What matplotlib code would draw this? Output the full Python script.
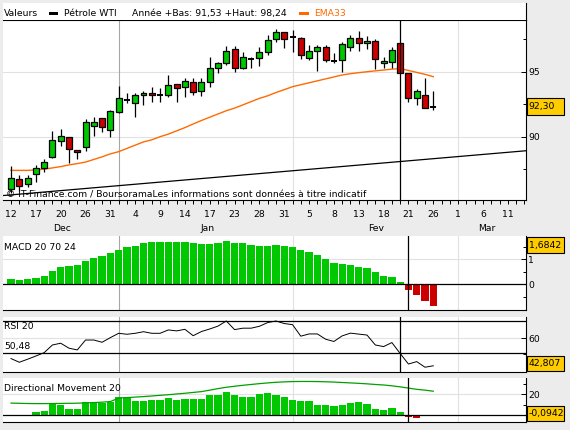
#!/usr/bin/env python
import numpy as np
import matplotlib
matplotlib.use("Agg")
import matplotlib.pyplot as plt
from matplotlib.patches import Rectangle
from matplotlib.lines import Line2D
from matplotlib.transforms import Affine2D, blended_transform_factory

# Petrole WTI daily candles, oldest first
opens = [85.95, 86.72, 86.33, 87.10, 87.56, 88.46, 89.64, 89.95, 88.97, 89.18,
         90.85, 91.46, 90.51, 91.87, 92.82, 92.56, 93.18, 93.33, 93.18, 93.18,
         94.03, 93.80, 94.18, 93.49, 94.23, 95.26, 95.64, 96.72, 95.26, 95.97,
         96.03, 96.54, 97.49, 98.03, 97.65, 97.56, 96.03, 96.62, 96.87, 95.85,
         95.90, 96.92, 97.62, 97.18, 97.36, 95.65, 95.72, 97.18, 94.88, 92.95,
         93.21, 92.30]
highs = [87.74, 87.05, 87.05, 87.82, 88.26, 90.44, 90.59, 89.97, 89.00, 91.36,
         91.49, 91.46, 92.05, 93.90, 93.38, 93.33, 93.49, 93.85, 93.77, 94.74,
         94.03, 94.49, 94.49, 94.49, 96.15, 95.77, 96.97, 96.97, 96.54, 96.10,
         96.92, 97.82, 98.26, 98.03, 98.20, 97.69, 97.05, 97.05, 97.05, 96.41,
         97.31, 97.82, 98.13, 97.77, 97.49, 96.15, 96.92, 97.18, 94.88, 93.67,
         94.54, 93.50]
lows = [85.64, 85.85, 86.15, 86.54, 87.30, 88.33, 89.31, 88.00, 88.26, 88.92,
        90.08, 90.38, 90.00, 91.82, 92.56, 91.54, 92.46, 92.69, 92.69, 93.08,
        92.69, 93.03, 93.20, 93.15, 93.85, 94.87, 95.51, 95.00, 95.18, 95.26,
        95.46, 96.28, 97.31, 96.80, 96.50, 95.97, 95.90, 95.08, 95.77, 95.64,
        95.00, 96.62, 96.62, 96.74, 95.20, 95.26, 95.31, 94.88, 92.69, 92.44,
        92.18, 92.05]
closes = [86.80, 86.20, 86.80, 87.56, 88.03, 89.74, 90.03, 89.03, 88.79, 91.10,
          91.10, 90.72, 91.97, 92.95, 92.82, 93.18, 93.36, 93.18, 93.18, 93.97,
          93.72, 94.28, 93.41, 94.18, 95.26, 95.64, 96.62, 95.26, 96.10, 95.97,
          96.54, 97.44, 98.08, 97.49, 97.65, 96.28, 96.62, 96.87, 95.90, 95.85,
          97.13, 97.62, 97.18, 97.36, 95.98, 95.82, 96.67, 94.88, 92.95, 93.52,
          92.18, 92.30]
ema33 = [87.41, 87.41, 87.41, 87.45, 87.50, 87.60, 87.70, 87.83, 87.93, 88.05,
         88.25, 88.45, 88.68, 88.85, 89.10, 89.35, 89.60, 89.76, 90.00, 90.20,
         90.45, 90.70, 90.98, 91.25, 91.50, 91.75, 92.00, 92.20, 92.45, 92.70,
         92.95, 93.15, 93.40, 93.62, 93.85, 94.00, 94.15, 94.30, 94.45, 94.60,
         94.75, 94.85, 94.93, 95.00, 95.07, 95.13, 95.20, 95.24, 95.10, 94.95,
         94.80, 94.62]
trend_idx = [-1.0, 62.2]
trend_val = [85.47, 88.92]

day_labels = ["12", "17", "20", "26", "31", "4", "9", "14", "17", "23", "28",
              "31", "5", "8", "13", "18", "21", "26", "1", "6", "11"]
month_labels = ["Dec", "Jan", "Fev", "Mar"]
month_pos = [6.2, 23.7, 44.1, 57.5]

macd_hist = [0.22, 0.17, 0.22, 0.26, 0.34, 0.53, 0.68, 0.74, 0.78, 0.93,
             1.05, 1.13, 1.24, 1.39, 1.49, 1.55, 1.64, 1.68, 1.68, 1.68,
             1.68, 1.68, 1.66, 1.61, 1.61, 1.64, 1.72, 1.64, 1.64, 1.59,
             1.55, 1.55, 1.59, 1.55, 1.50, 1.36, 1.29, 1.16, 1.01, 0.86,
             0.80, 0.76, 0.70, 0.66, 0.49, 0.33, 0.29, 0.10, -0.23, -0.43,
             -0.66, -0.87]
rsi = [47.3, 45.0, 46.9, 48.9, 51.0, 55.8, 56.9, 53.8, 52.7, 58.9,
       58.9, 57.5, 60.4, 63.1, 62.5, 63.1, 64.1, 63.1, 63.1, 65.2,
       64.6, 65.6, 61.6, 64.2, 65.8, 67.6, 70.8, 65.4, 66.3, 66.3,
       67.5, 69.8, 70.8, 69.2, 68.5, 61.3, 62.7, 62.7, 59.4, 58.0,
       61.5, 63.2, 62.6, 62.0, 55.8, 54.8, 57.3, 50.5, 43.9, 45.4,
       41.9, 42.8]
dmi_hist = [0.0, 0.0, 0.0, 3.2, 4.1, 10.3, 9.7, 5.8, 5.8, 12.3,
            12.3, 11.9, 12.9, 17.7, 17.1, 13.8, 13.8, 14.5, 14.5, 16.7,
            14.5, 15.5, 15.5, 15.2, 19.0, 19.0, 21.9, 19.0, 17.7, 17.7,
            20.0, 21.0, 19.5, 17.4, 14.5, 13.5, 13.5, 9.4, 9.4, 8.7,
            9.7, 11.3, 12.6, 11.0, 5.8, 4.8, 6.4, 3.2, -2.0, -2.6,
            0.0, -0.0942]
adx = [11.5, 11.3, 11.1, 11.0, 11.0, 11.1, 11.2, 11.3, 11.4, 11.7,
       12.0, 12.4, 13.0, 16.3, 16.8, 17.3, 17.8, 18.4, 19.0, 19.6,
       20.3, 21.0, 21.8, 22.6, 24.0, 25.5, 26.8, 27.8, 28.7, 29.5,
       30.3, 31.0, 31.6, 32.0, 32.3, 32.4, 32.4, 32.3, 32.1, 31.8,
       31.4, 31.0, 30.6, 30.1, 29.5, 29.0, 28.2, 27.2, 26.0, 24.8,
       24.0, 23.0]

last_close, macd_last, rsi_last, dmi_last = 92.30, 1.6842, 42.807, -0.0942
year_low, year_high = 91.53, 98.24
rsi_upper, rsi_mid = 71.0, 50.48
year_start, month_starts = 13, [34, 54]

GREEN = "#00c800"
RED = "#cc0000"
ORANGE = "#ff6a00"
GRID = "#e1e1e1"
BG = "#ececec"
YELLOW = "#ffcc00"
FS = 6.7

W, H = 570, 430
plt.rcParams["font.family"] = ["DejaVu Sans"]
plt.rcParams["font.size"] = FS

fig = plt.figure(figsize=(W / 100, H / 100), dpi=100)
fig.patch.set_facecolor(BG)

# pixel coords measured from the top-left corner
px = Affine2D().scale(1, -1).translate(0, H)


def fr(v, nd=2):
	# French decimal comma
	return ("%.*f" % (nd, v)).replace(".", ",")


def panel(x0, y0, x1, y1):
	ax = fig.add_axes([x0 / W, 1 - y1 / H, (x1 - x0) / W, (y1 - y0) / H])
	ax.set_xlim(-0.97, 62.2)
	for side in ("left", "top"):
		ax.spines[side].set_visible(False)
	for side in ("right", "bottom"):
		ax.spines[side].set_linewidth(0.8)
	ax.yaxis.tick_right()
	ax.tick_params(axis="y", which="both", direction="in", pad=1.5, labelsize=FS, width=0.7)
	ax.tick_params(axis="y", which="major", length=3.5)
	ax.tick_params(axis="y", which="minor", length=2.5)
	return ax


def vlines(ax, cursor):
	ax.axvline(year_start, color="#a6a6a6", lw=0.8, zorder=0.5)
	for m in month_starts:
		ax.axvline(m, color=GRID, lw=0.8, zorder=0.5)
	ax.axvline(cursor, color="black", lw=0.9, zorder=6)


def value_box(ax, value, text, h=16):
	# yellow last-value tag, kept inside its panel
	_, yd = ax.transData.transform((0, value))
	bb = ax.bbox
	yd = min(max(yd, bb.y0 + h / 2 + 1), bb.y1 - h / 2 - 1)
	fig.add_artist(Rectangle((bb.x1 + 0.5, yd - h / 2), 37, h, transform=None,
	                         facecolor=YELLOW, edgecolor="black", lw=0.8))
	fig.text(bb.x1 + 2.5, yd, text, transform=None, va="center", ha="left", fontsize=FS)


x = np.arange(len(closes))
o, hi, lo, c = map(np.array, (opens, highs, lows, closes))

# ---------------- header ----------------
fig.add_artist(Rectangle((3, 3), 523, 16.5, transform=px, facecolor="white", lw=0))
fig.add_artist(Line2D([526, 526], [3, 20], transform=px, color="black", lw=0.8))
fig.text(4, 13.3, "Valeurs", transform=px, va="center")
fig.add_artist(Rectangle((49, 12), 9, 3.2, transform=px, facecolor="black", lw=0))
fig.text(64.5, 13.3, "Pétrole WTI", transform=px, va="center")
fig.text(132, 13.3, "Année +Bas: %s +Haut: %s" % (fr(year_low), fr(year_high)),
         transform=px, va="center")
fig.add_artist(Rectangle((299, 12), 10, 3.2, transform=px, facecolor=ORANGE, lw=0))
fig.text(314.5, 13.3, "EMA33", transform=px, va="center", color=ORANGE)

# ---------------- main price panel ----------------
ax = panel(3, 19.5, 526, 200)
ax.spines["top"].set_visible(True)
ax.spines["top"].set_linewidth(0.8)
ax.set_ylim(85.13, 99.02)
ax.set_yticks([90, 95])
ax.set_yticks([87.5, 92.5, 97.5], minor=True)
for v in (90, 95):
	ax.axhline(v, color=GRID, lw=0.8, zorder=0.5)
vlines(ax, 47)

ax.plot(trend_idx, trend_val, color="black", lw=0.9, zorder=2)
ax.plot(x, ema33, color=ORANGE, lw=1.0, zorder=2)

# candles: wicks, then bodies, dojis as a flat bar
ax.vlines(x, lo, hi, color="black", lw=0.9, zorder=3)
up = c - o > 0.02
down = o - c > 0.02
flat = ~(up | down)
ax.bar(x[up], (c - o)[up], bottom=o[up], width=0.72, color=GREEN,
       edgecolor="black", lw=0.9, zorder=4)
ax.bar(x[down], (c - o)[down], bottom=o[down], width=0.72, color=RED,
       edgecolor="black", lw=0.9, zorder=4)
ax.hlines(o[flat], x[flat] - 0.36, x[flat] + 0.36, color="black", lw=1.4, zorder=4)

ax.set_xticks(np.arange(0, 61, 3))
ax.set_xticklabels(day_labels)
ax.set_xticks(np.arange(0, 63), minor=True)
ax.tick_params(axis="x", which="both", direction="out", length=3, width=0.7, pad=4, labelsize=FS)
tr = blended_transform_factory(ax.transData, ax.transAxes)
for lab, pos in zip(month_labels, month_pos):
	ax.text(pos, -0.158, lab, transform=tr, ha="center", va="center", fontsize=FS)
fig.text(6, 195, "© IT-Finance.com / BoursoramaLes informations sont données à titre indicatif",
         transform=px, va="center", zorder=5)
value_box(ax, last_close, fr(last_close), h=17)

# ---------------- MACD ----------------
axm = panel(3, 236, 526, 310)
axm.set_ylim(-1.028, 1.932)
axm.set_xticks([])
axm.set_yticks([0, 1])
axm.set_yticks([-0.5, 0.5, 1.5], minor=True)
axm.axhline(1, color=GRID, lw=0.8, zorder=0.5)
vlines(axm, 48)
macd = np.array(macd_hist)
axm.bar(x, macd, width=0.88, color=[GREEN if v >= 0 else RED for v in macd], lw=0, zorder=2)
axm.axhline(0, color="black", lw=0.9, zorder=3)
fig.text(4, 248, "MACD 20 70 24", transform=px, va="center")
value_box(axm, macd_last, fr(macd_last, 4), h=16.5)

# ---------------- RSI ----------------
axr = panel(3, 317.3, 526, 371.7)
axr.set_ylim(39.1, 73.1)
axr.set_xticks([])
axr.set_yticks([60])
axr.set_yticks([50], minor=True)
axr.axhline(60, color=GRID, lw=0.8, zorder=0.5)
vlines(axr, 47)
axr.axhline(rsi_upper, color="black", lw=0.9, zorder=1)
axr.axhline(rsi_mid, color="black", lw=0.9, zorder=1)
axr.plot(x, rsi, color="black", lw=0.7, zorder=3)
fig.text(4, 326.7, "RSI 20", transform=px, va="center")
fig.text(4, 346.7, fr(rsi_mid), transform=px, va="center")
value_box(axr, rsi_last, fr(rsi_last, 3), h=14.5)

# ---------------- Directional Movement ----------------
axd = panel(3, 378.3, 526, 421.7)
axd.set_ylim(-6.47, 35.46)
axd.set_xticks([])
axd.set_yticks([20])
axd.set_yticks([10, 30], minor=True)
axd.axhline(20, color=GRID, lw=0.8, zorder=0.5)
vlines(axd, 48)
dmi = np.array(dmi_hist)
axd.bar(x, dmi, width=0.88, color=[GREEN if v >= 0 else RED for v in dmi], lw=0, zorder=2)
axd.axhline(0, color="black", lw=0.9, zorder=3)
axd.plot(x, adx, color="#00a000", lw=0.9, zorder=4)
fig.text(4, 388.5, "Directional Movement 20", transform=px, va="center")
value_box(axd, dmi_last, fr(dmi_last, 4), h=15)

fig.savefig("out.png", dpi=100, facecolor=BG)
